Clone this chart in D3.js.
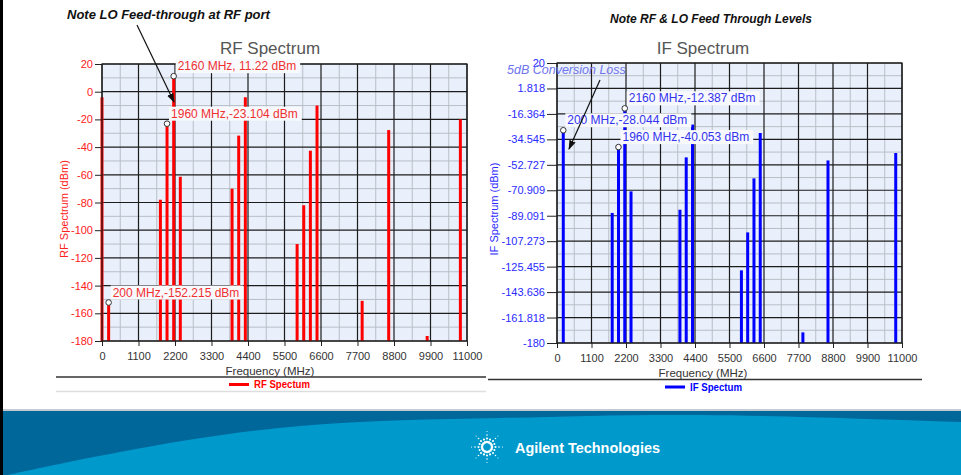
<!DOCTYPE html>
<html><head><meta charset="utf-8">
<script src="https://cdn.jsdelivr.net/npm/d3@7"></script>
<style>
html,body{margin:0;padding:0;background:#fff;}
svg{display:block;font-family:"Liberation Sans",Arial,sans-serif;}
</style></head><body>
<svg id="slide" width="961" height="475"></svg>
<script>
// Mixer products (MHz) seen at the RF port and at the IF port
const rfFreqs  = [0, 200, 1760, 1960, 2160, 2360, 3920, 4120, 4320, 5880, 6080, 6280, 6480, 7840, 8640, 9800, 10800];
const rfLevels = [-4, -152.215, -78, -23.104, 11.22, -61.4, -70, -31.7, -4, -110, -82, -42.6, -10, -151, -27.7, -176.4, -20];
const ifFreqs  = [200, 1760, 1960, 2160, 2360, 3920, 4120, 4320, 5880, 6080, 6280, 6480, 7840, 8640, 10800];
const ifLevels = [-28.044, -87.1, -40.053, -12.387, -71.7, -84.8, -47.4, -24, -128.1, -101, -62.4, -30, -172.4, -49.6, -44.3];
const freqTicks = [0, 1100, 2200, 3300, 4400, 5500, 6600, 7700, 8800, 9900, 11000];
const rfTicks = [20, 0, -20, -40, -60, -80, -100, -120, -140, -160, -180];
const ifTicks = [20, 1.818, -16.364, -34.545, -52.727, -70.909, -89.091, -107.273, -125.455, -143.636, -161.818, -180];
const rfMarked = [2160, 1960, 200];
const ifMarked = [2160, 200, 1960];

const svg = d3.select("#slide");

// arrowhead for the note arrows
svg.append("defs").append("marker")
  .attr("id", "arrow").attr("viewBox", "0 0 10 10").attr("refX", 9).attr("refY", 5)
  .attr("markerWidth", 8).attr("markerHeight", 8).attr("orient", "auto")
  .append("path").attr("d", "M0,1.5 L10,5 L0,8.5 Z").attr("fill", "#111");

function drawChart(cfg) {
  const g = svg.append("g");
  const x = d3.scaleLinear().domain([0, 11000]).range([cfg.left, cfg.right]);
  const y = d3.scaleLinear().domain([-180, 20]).range([cfg.bottom, cfg.top]);
  const w = cfg.right - cfg.left, h = cfg.bottom - cfg.top;

  g.append("rect").attr("x", cfg.left).attr("y", cfg.top).attr("width", w).attr("height", h)
    .attr("fill", "#e9f0fb");

  // minor grid halfway between the labelled ticks
  const xMinor = freqTicks.slice(1).map((t, i) => (t + freqTicks[i]) / 2);
  const yMinor = cfg.ticks.slice(1).map((t, i) => (t + cfg.ticks[i]) / 2);
  const grid = g.append("g");
  grid.selectAll(".vx").data(xMinor).join("line")
    .attr("x1", d => x(d)).attr("x2", d => x(d)).attr("y1", cfg.top).attr("y2", cfg.bottom)
    .attr("stroke", "#b9bec6").attr("stroke-width", 1);
  grid.selectAll(".hy").data(yMinor).join("line")
    .attr("y1", d => y(d)).attr("y2", d => y(d)).attr("x1", cfg.left).attr("x2", cfg.right)
    .attr("stroke", "#b9bec6").attr("stroke-width", 1);
  grid.selectAll(".vX").data(freqTicks).join("line")
    .attr("x1", d => x(d)).attr("x2", d => x(d)).attr("y1", cfg.top).attr("y2", cfg.bottom)
    .attr("stroke", "#1c1c1c").attr("stroke-width", 1.2);
  grid.selectAll(".hY").data(cfg.ticks).join("line")
    .attr("y1", d => y(d)).attr("y2", d => y(d)).attr("x1", cfg.left).attr("x2", cfg.right)
    .attr("stroke", "#1c1c1c").attr("stroke-width", 1.2);

  // spectral lines
  g.append("g").selectAll("line").data(cfg.freqs).join("line")
    .attr("x1", d => x(d)).attr("x2", d => x(d))
    .attr("y1", (d, i) => y(cfg.levels[i])).attr("y2", y(-180))
    .attr("stroke", cfg.color).attr("stroke-width", 3);

  // axes
  const ya = g.append("g").attr("transform", `translate(${cfg.left},0)`)
    .call(d3.axisLeft(y).tickValues(cfg.ticks).tickFormat(d => d).tickSize(cfg.ytick).tickPadding(2));
  ya.select(".domain").remove();
  ya.selectAll(".tick line").attr("stroke", "#222");
  ya.selectAll(".tick text").attr("fill", cfg.tickColor).attr("font-size", 11)
    .attr("font-family", "Liberation Sans, Arial, sans-serif");

  const xa = g.append("g").attr("transform", `translate(0,${cfg.bottom})`)
    .call(d3.axisBottom(x).tickValues(freqTicks).tickFormat(d => d).tickSize(5).tickPadding(6));
  xa.select(".domain").remove();
  xa.selectAll(".tick line").attr("stroke", "#222");
  xa.selectAll(".tick text").attr("fill", "#333").attr("font-size", 11)
    .attr("font-family", "Liberation Sans, Arial, sans-serif");

  g.append("rect").attr("x", cfg.left).attr("y", cfg.top).attr("width", w).attr("height", h)
    .attr("fill", "none").attr("stroke", "#1c1c1c").attr("stroke-width", 1.2);

  // titles
  g.append("text").attr("x", cfg.center).attr("y", 54).attr("text-anchor", "middle")
    .attr("font-size", 17).attr("fill", "#555").text(cfg.title);
  g.append("text").attr("x", cfg.center).attr("y", cfg.bottom + 34).attr("text-anchor", "middle")
    .attr("font-size", 11.5).attr("fill", "#333").text("Frequency (MHz)");
  g.append("text").attr("transform", `translate(${cfg.ylabX},209) rotate(-90)`)
    .attr("text-anchor", "middle").attr("font-size", 11).attr("fill", cfg.tickColor).text(cfg.ylabel);

  // value callouts
  const co = g.append("g");
  cfg.marked.forEach(f => {
    const v = cfg.levels[cfg.freqs.indexOf(f)];
    const px = x(f), py = y(v);
    const t = co.append("text").attr("x", px + 4).attr("y", py - 6)
      .attr("font-size", 12).attr("fill", cfg.calloutColor)
      .text(`${f} MHz,${v < 0 ? v : " " + v} dBm`);
    const b = t.node().getBBox();
    co.insert("rect", "text").attr("x", b.x - 2).attr("y", b.y).attr("width", b.width + 6).attr("height", b.height)
      .attr("fill", "#f7f9fd");
    co.append("circle").attr("cx", px).attr("cy", py).attr("r", 2.8)
      .attr("fill", "#fff").attr("stroke", "#333").attr("stroke-width", 1);
  });

  // legend block under the chart
  g.append("line").attr("x1", cfg.legend.x1).attr("x2", cfg.legend.x2).attr("y1", cfg.legend.y).attr("y2", cfg.legend.y)
    .attr("stroke", "#333").attr("stroke-width", 1.5);
  g.append("line").attr("x1", cfg.legend.sx).attr("x2", cfg.legend.sx + 20)
    .attr("y1", cfg.legend.y + 7.5).attr("y2", cfg.legend.y + 7.5).attr("stroke", cfg.color).attr("stroke-width", 3);
  g.append("text").attr("x", cfg.legend.sx + 25).attr("y", cfg.legend.y + 11)
    .attr("font-weight", "bold").attr("font-size", 10.5).attr("fill", cfg.color)
    .attr("textLength", cfg.legend.len).attr("lengthAdjust", "spacingAndGlyphs")
    .text(cfg.legendText);
}

drawChart({
  left: 102, right: 467, top: 64, bottom: 341, center: 270, ylabX: 68,
  freqs: rfFreqs, levels: rfLevels, ticks: rfTicks, marked: rfMarked,
  color: "#ff0000", tickColor: "#ff2020", calloutColor: "#f03030", ytick: 7,
  title: "RF Spectrum", ylabel: "RF Spectrum (dBm)", legendText: "RF Spectum",
  legend: { x1: 56, x2: 486, y: 377, sx: 229, len: 56 }
});
drawChart({
  left: 557, right: 902, top: 63, bottom: 343, center: 703, ylabX: 498,
  freqs: ifFreqs, levels: ifLevels, ticks: ifTicks, marked: ifMarked,
  color: "#0000ff", tickColor: "#2a2aff", calloutColor: "#3333ee", ytick: 10,
  title: "IF Spectrum", ylabel: "IF Spectrum (dBm)", legendText: "IF Spectum",
  legend: { x1: 488, x2: 922, y: 379.5, sx: 665, len: 52 }
});

// faint rule under the RF legend
svg.append("line").attr("x1", 56).attr("x2", 486).attr("y1", 391.5).attr("y2", 391.5)
  .attr("stroke", "#dedede").attr("stroke-width", 1.5);

// notes
svg.append("text").attr("x", 67).attr("y", 19).attr("font-size", 13).attr("font-weight", "bold")
  .attr("font-style", "italic").attr("fill", "#111").text("Note LO Feed-through at RF port");
svg.append("line").attr("x1", 137).attr("y1", 25).attr("x2", 174).attr("y2", 102)
  .attr("stroke", "#111").attr("stroke-width", 1.2).attr("marker-end", "url(#arrow)");
svg.append("text").attr("x", 610).attr("y", 23).attr("font-size", 12).attr("font-weight", "bold")
  .attr("font-style", "italic").attr("fill", "#111").text("Note RF & LO Feed Through Levels");
svg.append("text").attr("x", 507).attr("y", 74).attr("font-size", 12.5)
  .attr("font-style", "italic").attr("fill", "#7075ee").text("5dB Conversion Loss");
svg.append("line").attr("x1", 600).attr("y1", 80).attr("x2", 569).attr("y2", 149)
  .attr("stroke", "#111").attr("stroke-width", 1.2).attr("marker-end", "url(#arrow)");

// slide frame and footer band
svg.append("rect").attr("x", 0).attr("y", 0).attr("width", 3).attr("height", 475).attr("fill", "#000");
svg.append("rect").attr("x", 3).attr("y", 409).attr("width", 958).attr("height", 2).attr("fill", "#c3cad2");
svg.append("rect").attr("x", 3).attr("y", 411).attr("width", 958).attr("height", 64).attr("fill", "#00679b");
const wave = d3.line().curve(d3.curveNatural)([[3, 476], [120, 452], [300, 426], [500, 418], [700, 415], [961, 422]]);
svg.append("path").attr("d", wave + " L961,475 L3,475 Z").attr("fill", "#0099cc");

// spark logo
const logo = svg.append("g").attr("transform", "translate(487,447)");
for (let k = 0; k < 16; k++) {
  const a = k * Math.PI / 8;
  const long = k % 2 === 0;
  const n = long ? 4 : 2;
  for (let j = 0; j < n; j++) {
    const r = 5 + j * (long ? 3.5 : 3);
    logo.append("circle").attr("cx", r * Math.cos(a)).attr("cy", r * Math.sin(a))
      .attr("r", Math.max(0.5, 1.3 - j * 0.25)).attr("fill", "#fff");
  }
}
svg.append("text").attr("x", 515).attr("y", 453)
  .attr("font-weight", "bold").attr("font-size", 15).attr("fill", "#fff")
  .attr("textLength", 145).attr("lengthAdjust", "spacingAndGlyphs")
  .text("Agilent Technologies");
</script>
</body></html>
